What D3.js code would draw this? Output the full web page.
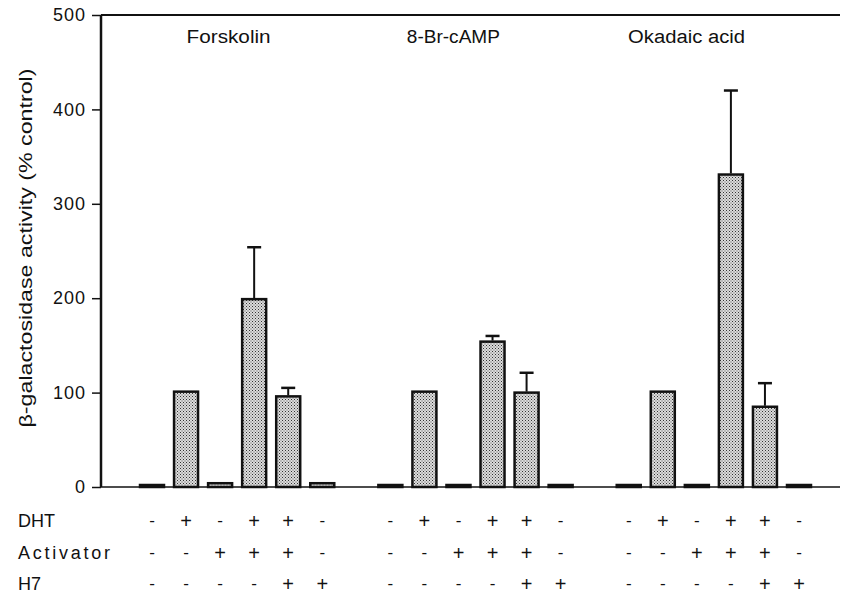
<!DOCTYPE html>
<html>
<head>
<meta charset="utf-8">
<script src="https://cdn.jsdelivr.net/npm/d3@7"></script>
<style>
  body { margin: 0; background: #fff; }
  text { font-family: "Liberation Sans", Arial, sans-serif; fill: #111; }
</style>
</head>
<body>
<div id="chart"></div>
<script>
// data
var groups = ["Forskolin", "8-Br-cAMP", "Okadaic acid"];
var forskolin = [2, 101, 4, 199, 96, 4];
var forskolinErr = [0, 0, 0, 55, 9, 0];
var brcamp = [1, 101, 1, 154, 100, 2];
var brcampErr = [0, 0, 0, 6, 21, 0];
var okadaic = [0.6, 101, 1, 331, 85, 0.6];
var okadaicErr = [0, 0, 0, 89, 25, 0];
var rowLabels = ["DHT", "Activator", "H7"];
var dht = ["-", "+", "-", "+", "+", "-"];
var activator = ["-", "-", "+", "+", "+", "-"];
var h7 = ["-", "-", "-", "-", "+", "+"];
var yTicks = [0, 100, 200, 300, 400, 500];

var width = 844, height = 597;
var margin = {top: 15, left: 101, right: 4, bottom: 110};

var svg = d3.select("#chart").append("svg")
  .attr("width", width)
  .attr("height", height);

// stipple fill like the printed bars
var pat = svg.append("defs").append("pattern")
  .attr("id", "stipple")
  .attr("width", 3).attr("height", 3)
  .attr("patternUnits", "userSpaceOnUse");
pat.append("rect").attr("width", 3).attr("height", 3).attr("fill", "#dcdcdc");
pat.append("rect").attr("x", 0).attr("y", 0).attr("width", 1).attr("height", 1).attr("fill", "#333");
pat.append("rect").attr("x", 1.5).attr("y", 1.5).attr("width", 1).attr("height", 1).attr("fill", "#555");

var y = d3.scaleLinear()
  .domain([0, 500])
  .range([height - margin.bottom, margin.top]);

// 20 slots: 6 bars, 1 gap, 6 bars, 1 gap, 6 bars
var x = d3.scaleLinear()
  .domain([0, 19])
  .range([152, 799]);
var barW = 24;

var series = [forskolin, brcamp, okadaic];
var errs = [forskolinErr, brcampErr, okadaicErr];
var data = [];
series.forEach(function(vals, g) {
  vals.forEach(function(v, i) {
    data.push({g: g, i: i, slot: g * 7 + i, value: v, err: errs[g][i]});
  });
});

// axes
svg.append("g")
  .attr("transform", "translate(" + margin.left + ",0)")
  .call(d3.axisLeft(y).tickValues(yTicks).tickSize(9).tickPadding(6))
  .call(function(g) {
    g.select(".domain").remove();
    g.selectAll(".tick line").attr("stroke", "#111").attr("stroke-width", 1.5);
    g.selectAll(".tick text")
      .attr("font-size", 18)
      .attr("letter-spacing", 1)
      .attr("fill", "#111");
  });

svg.append("line")
  .attr("x1", margin.left).attr("x2", margin.left)
  .attr("y1", y(500)).attr("y2", y(0))
  .attr("stroke", "#111").attr("stroke-width", 2.5);
svg.append("line")
  .attr("x1", margin.left).attr("x2", width - margin.right)
  .attr("y1", y(500)).attr("y2", y(500))
  .attr("stroke", "#111").attr("stroke-width", 2);
svg.append("line")
  .attr("x1", margin.left).attr("x2", width - margin.right)
  .attr("y1", y(0)).attr("y2", y(0))
  .attr("stroke", "#111").attr("stroke-width", 1.5);

// bars
svg.selectAll("rect.bar")
  .data(data)
  .enter()
  .append("rect")
    .attr("class", "bar")
    .attr("x", function(d) { return x(d.slot) - barW / 2; })
    .attr("y", function(d) { return Math.min(y(d.value), y(0) - 2); })
    .attr("width", barW)
    .attr("height", function(d) { return Math.max(y(0) - y(d.value), 2); })
    .attr("fill", "url(#stipple)")
    .attr("stroke", "#111")
    .attr("stroke-width", 2.5);

// error bars
var withErr = data.filter(function(d) { return d.err > 0; });
svg.selectAll("line.err")
  .data(withErr)
  .enter()
  .append("line")
    .attr("class", "err")
    .attr("x1", function(d) { return x(d.slot); })
    .attr("x2", function(d) { return x(d.slot); })
    .attr("y1", function(d) { return y(d.value) - 1; })
    .attr("y2", function(d) { return y(d.value + d.err); })
    .attr("stroke", "#111")
    .attr("stroke-width", 2);
svg.selectAll("line.cap")
  .data(withErr)
  .enter()
  .append("line")
    .attr("class", "cap")
    .attr("x1", function(d) { return x(d.slot) - 7; })
    .attr("x2", function(d) { return x(d.slot) + 7; })
    .attr("y1", function(d) { return y(d.value + d.err); })
    .attr("y2", function(d) { return y(d.value + d.err); })
    .attr("stroke", "#111")
    .attr("stroke-width", 2.5);

// group titles (anchored near the middle of each group's slots)
var titleSlot = [2.25, 7 + 1.85, 14 + 1.7];
var titleLen = [84, 93, 117];
svg.selectAll("text.group")
  .data(groups)
  .enter()
  .append("text")
    .attr("class", "group")
    .attr("x", function(d, g) { return x(titleSlot[g]); })
    .attr("y", 43)
    .attr("text-anchor", "middle")
    .attr("font-size", 18)
    .attr("textLength", function(d, g) { return titleLen[g]; })
    .attr("lengthAdjust", "spacingAndGlyphs")
    .text(function(d) { return d; });

// y axis title
svg.append("text")
  .attr("transform", "translate(32," + 248 + ") rotate(-90)")
  .attr("text-anchor", "middle")
  .attr("font-size", 19)
  .attr("textLength", 359)
  .attr("lengthAdjust", "spacingAndGlyphs")
  .text("β-galactosidase activity (% control)");

// treatment table
var rows = [dht, activator, h7];
var rowY = [521, 553, 584];
rowLabels.forEach(function(lab, r) {
  var t = svg.append("text")
    .attr("x", 18)
    .attr("y", rowY[r])
    .attr("dy", "0.36em")
    .attr("font-size", 18)
    .text(lab);
  if (lab === "Activator") {
    t.attr("textLength", 92).attr("lengthAdjust", "spacing");
  }
  var cells = [];
  groups.forEach(function(gname, g) {
    rows[r].forEach(function(s, i) { cells.push({slot: g * 7 + i, s: s}); });
  });
  svg.selectAll("text.sign" + r)
    .data(cells)
    .enter()
    .append("text")
      .attr("class", "sign" + r)
      .attr("x", function(d) { return x(d.slot); })
      .attr("y", rowY[r])
      .attr("dy", function(d) { return d.s === "+" ? "0.36em" : "0.3em"; })
      .attr("text-anchor", "middle")
      .attr("font-size", function(d) { return d.s === "+" ? 20 : 17; })
      .text(function(d) { return d.s; });
});
</script>
</body>
</html>
